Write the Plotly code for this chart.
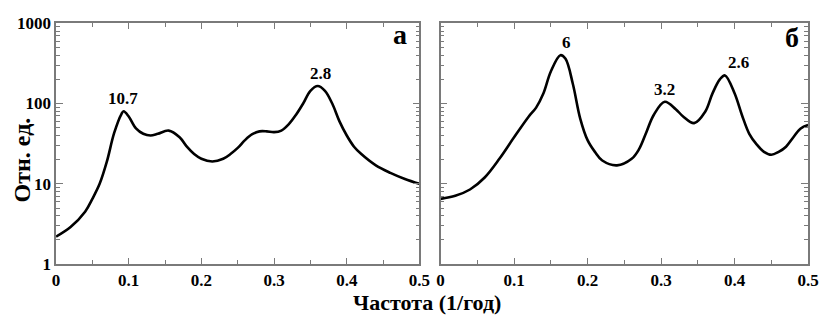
import math
import plotly.graph_objects as go

# Panel а
freq_a = [0, 0.02, 0.04, 0.05, 0.06, 0.07, 0.08, 0.09, 0.093, 0.10, 0.11, 0.12, 0.13, 0.14,
          0.155, 0.17, 0.18, 0.19, 0.20, 0.215, 0.23, 0.24, 0.25, 0.26, 0.27, 0.28, 0.29,
          0.30, 0.31, 0.32, 0.33, 0.34, 0.35, 0.36, 0.37, 0.38, 0.39, 0.40, 0.41, 0.42,
          0.44, 0.46, 0.48, 0.50]
val_a = [2.2, 2.9, 4.5, 6.5, 10, 19, 43, 74, 80, 69, 49, 42, 40, 42,
         46, 38, 29, 23.5, 20.5, 19, 20.5, 23.5, 28, 35, 41.5, 45, 45,
         44, 46, 55, 72, 100, 144, 165, 144, 100, 60, 40, 29, 23.5,
         17, 13.7, 11.5, 10]

# Panel б
freq_b = [0, 0.02, 0.04, 0.06, 0.08, 0.10, 0.12, 0.13, 0.14, 0.15, 0.163, 0.17, 0.18, 0.19,
          0.20, 0.21, 0.22, 0.24, 0.26, 0.27, 0.28, 0.29, 0.305, 0.32, 0.33, 0.345, 0.36,
          0.37, 0.38, 0.387, 0.40, 0.41, 0.42, 0.43, 0.44, 0.45, 0.46, 0.47, 0.48, 0.49, 0.50]
val_b = [6.5, 7.1, 8.5, 12, 20.5, 38, 69, 89, 134, 250, 400, 360, 175, 65,
         35, 25, 19.5, 17, 20.5, 27, 44, 72, 105, 85, 69, 57, 79,
         134, 200, 224, 134, 72, 42, 31, 25, 23, 25, 29, 38, 49, 54]

# Peak labels (period in years)
peaks_a_x = [0.092, 0.364]
peaks_a_y = [80, 165]
peaks_a_text = ["10.7", "2.8"]
peaks_b_x = [0.171, 0.305, 0.405]
peaks_b_y = [400, 105, 224]
peaks_b_text = ["6", "3.2", "2.6"]

x_ticks = [0, 0.1, 0.2, 0.3, 0.4, 0.5]
x_tick_text = ["0", "0.1", "0.2", "0.3", "0.4", "0.5"]
y_ticks = [1, 10, 100, 1000]
y_tick_text = ["1", "10", "100", "1000"]
y_minor = [m * 10 ** k for k in range(0, 3) for m in range(2, 10)]

FONT = "Times New Roman, Liberation Serif, DejaVu Serif, serif"
FRAME = "#7a7a7a"

fig = go.Figure()
fig.add_trace(go.Scatter(x=freq_a, y=val_a, mode="lines", line=dict(color="black", width=2.6, shape="spline", smoothing=1.0),
                         xaxis="x", yaxis="y", showlegend=False))
fig.add_trace(go.Scatter(x=freq_b, y=val_b, mode="lines", line=dict(color="black", width=2.6, shape="spline", smoothing=1.0),
                         xaxis="x2", yaxis="y2", showlegend=False))

anns = []
for xs, ys, ts, xr, yr in [(peaks_a_x, peaks_a_y, peaks_a_text, "x", "y"), (peaks_b_x, peaks_b_y, peaks_b_text, "x2", "y2")]:
    for x, y, t in zip(xs, ys, ts):
        anns.append(dict(x=x, y=math.log10(y), xref=xr, yref=yr, text="<b>%s</b>" % t, showarrow=False,
                         yanchor="bottom", yshift=1, font=dict(family=FONT, size=17, color="black")))
anns.append(dict(x=0.487, y=0.916, xref="paper", yref="paper", text="<b>а</b>", showarrow=False,
                 xanchor="center", yanchor="middle", font=dict(family=FONT, size=28, color="black")))
anns.append(dict(x=0.969, y=0.907, xref="paper", yref="paper", text="<b>б</b>", showarrow=False,
                 xanchor="center", yanchor="middle", font=dict(family=FONT, size=28, color="black")))
anns.append(dict(x=0.52, y=0.033, xref="paper", yref="paper", text="<b>Частота (1/год)</b>", showarrow=False,
                 xanchor="center", yanchor="middle", font=dict(family=FONT, size=22, color="black")))
anns.append(dict(x=0.022, y=0.503, xref="paper", yref="paper", text="<b>Отн. ед.</b>", showarrow=False,
                 textangle=-90, xanchor="center", yanchor="middle", font=dict(family=FONT, size=24, color="black")))

def xaxis(domain, anchor):
    return dict(domain=domain, anchor=anchor, range=[0, 0.5], tickvals=x_ticks,
                ticktext=["<b>%s</b>" % t for t in x_tick_text],
                ticks="inside", ticklen=6, tickwidth=1, tickcolor=FRAME, showline=True, linecolor=FRAME,
                linewidth=1.5, mirror="ticks", showgrid=False, zeroline=False,
                tickfont=dict(family=FONT, size=17, color="black"),
                minor=dict(tickvals=[0.05, 0.15, 0.25, 0.35, 0.45], ticks="inside", ticklen=4, tickcolor=FRAME))

def yaxis(anchor, labels):
    return dict(domain=[0.158, 0.953], anchor=anchor, type="log", range=[0, 3], tickvals=y_ticks,
                ticktext=["<b>%s</b>" % t for t in y_tick_text] if labels else ["", "", "", ""],
                showticklabels=labels,
                ticks="inside", ticklen=7, tickwidth=1, tickcolor=FRAME, showline=True, linecolor=FRAME,
                linewidth=1.5, mirror="ticks", showgrid=False, zeroline=False,
                tickfont=dict(family=FONT, size=17, color="black"),
                minor=dict(tickvals=y_minor, ticks="inside", ticklen=4, tickcolor=FRAME))

fig.update_layout(
    width=828, height=322, margin=dict(l=0, r=0, t=0, b=0),
    paper_bgcolor="white", plot_bgcolor="white",
    xaxis=xaxis([0.064, 0.511], "y"),
    yaxis=yaxis("x", True),
    xaxis2=xaxis([0.537, 0.989], "y2"),
    yaxis2=yaxis("x2", False),
    annotations=anns,
)
fig.write_html("out.html")
